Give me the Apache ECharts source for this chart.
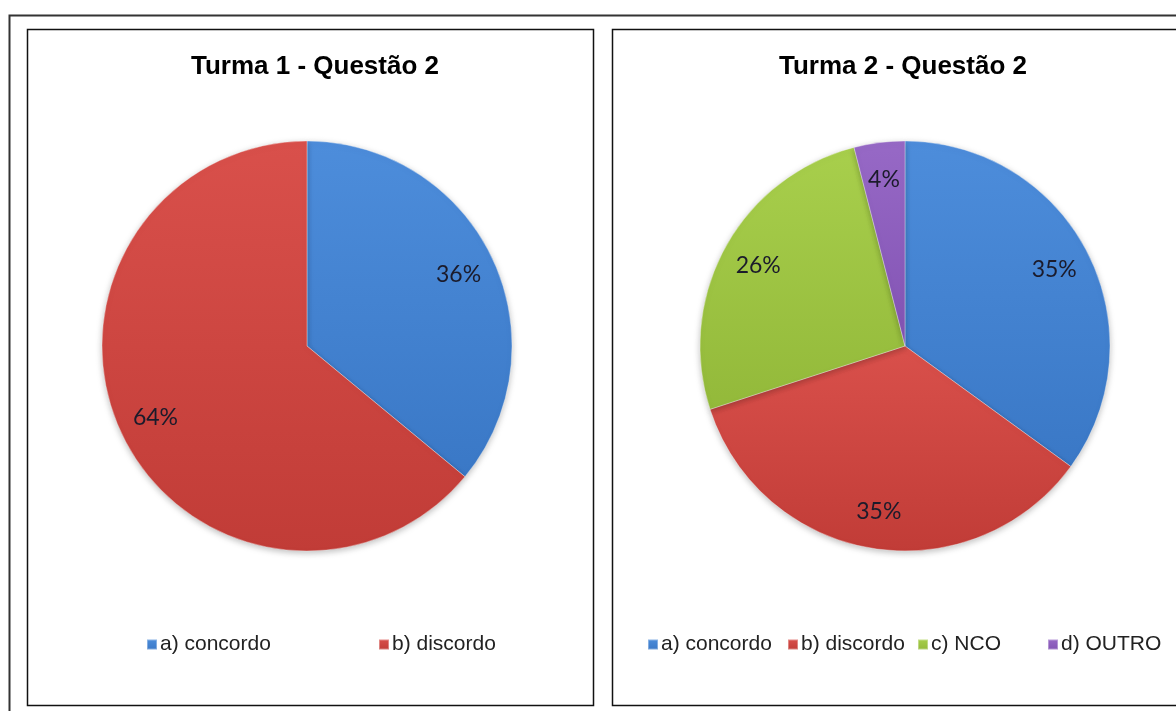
<!DOCTYPE html>
<html>
<head>
<meta charset="utf-8">
<script src="https://cdn.jsdelivr.net/npm/echarts@6.0.0/dist/echarts.min.js"></script>
<style>
  html, body { margin: 0; padding: 0; background: #fff; }
  #main { width: 1176px; height: 711px; }
</style>
</head>
<body>
<div id="main"></div>
<script>
// dados
var titulo1 = 'Turma 1 - Questão 2';
var titulo2 = 'Turma 2 - Questão 2';
var categorias1 = ['a) concordo', 'b) discordo'];
var valores1 = [36, 64];
var categorias2 = ['a) concordo', 'b) discordo', 'c) NCO', 'd) OUTRO'];
var valores2 = [35, 35, 26, 4];

// posição x de cada item da legenda (o Excel distribui em colunas fixas)
var legendaX1 = [141, 373];
var legendaX2 = [642, 782, 912, 1042];

// cores tipo Office 2007
var cores = {
  'a) concordo': ['#4d8ddb', '#3a78c6'],
  'b) discordo': ['#d9504b', '#c13c37'],
  'c) NCO': ['#a8cf4c', '#93b93a'],
  'd) OUTRO': ['#9769c6', '#8253b3']
};

function grad(nome) {
  var c = cores[nome];
  return new echarts.graphic.LinearGradient(0, 0, 0, 1, [
    { offset: 0, color: c[0] },
    { offset: 1, color: c[1] }
  ]);
}

function montaDados(cats, vals) {
  return cats.map(function (n, i) {
    return { name: n, value: vals[i], itemStyle: { color: grad(n) } };
  });
}

// série só para os rótulos (transparente), posiciona o texto mais perto da borda
function rotulos(cats, vals, centro) {
  return {
    type: 'pie',
    silent: true,
    center: centro,
    radius: [124, 205],
    startAngle: 90,
    clockwise: true,
    data: cats.map(function (n, i) {
      return { name: n, value: vals[i], itemStyle: { color: 'rgba(0,0,0,0)' } };
    }),
    label: {
      show: true,
      position: 'inside',
      formatter: '{d}%',
      color: '#1b1b2b',
      fontFamily: 'Lato',
      fontSize: 23
    },
    labelLine: { show: false },
    emphasis: { disabled: true },
    z: 5
  };
}

function pizza(cats, vals, centro) {
  return {
    type: 'pie',
    center: centro,
    radius: [0, 205],
    startAngle: 90,
    clockwise: true,
    data: montaDados(cats, vals),
    label: { show: false },
    labelLine: { show: false },
    itemStyle: {
      borderColor: 'rgba(255,255,255,0.35)',
      borderWidth: 1,
      shadowBlur: 6,
      shadowOffsetY: 2,
      shadowColor: 'rgba(0,0,0,0.25)'
    },
    emphasis: { scale: false }
  };
}

function legendas(cats, xs) {
  return cats.map(function (n, i) {
    return {
      orient: 'horizontal',
      left: xs[i],
      top: 629,
      itemWidth: 10,
      itemHeight: 10,
      itemGap: 0,
      icon: 'rect',
      data: [n],
      textStyle: { fontFamily: 'Liberation Sans', fontSize: 21, color: '#222', padding: [0, 0, 0, -2] }
    };
  });
}

var chart = echarts.init(document.getElementById('main'));

chart.setOption({
  backgroundColor: '#fff',
  animation: false,
  graphic: [
    { type: 'rect', shape: { x: 9.5, y: 15.5, width: 1180, height: 710 },
      style: { fill: 'none', stroke: '#333', lineWidth: 2 } },
    { type: 'rect', shape: { x: 27.5, y: 29.5, width: 566, height: 676 },
      style: { fill: '#fff', stroke: '#111', lineWidth: 1.5 } },
    { type: 'rect', shape: { x: 612.5, y: 29.5, width: 580, height: 676 },
      style: { fill: '#fff', stroke: '#111', lineWidth: 1.5 } }
  ],
  title: [
    { text: titulo1, left: 310, top: 49, textAlign: 'center',
      textStyle: { fontFamily: 'Liberation Sans', fontWeight: 'bold', fontSize: 26, color: '#000' } },
    { text: titulo2, left: 898, top: 49, textAlign: 'center',
      textStyle: { fontFamily: 'Liberation Sans', fontWeight: 'bold', fontSize: 26, color: '#000' } }
  ],
  legend: legendas(categorias1, legendaX1).concat(legendas(categorias2, legendaX2)),
  series: [
    pizza(categorias1, valores1, [307, 346]),
    rotulos(categorias1, valores1, [307, 346]),
    pizza(categorias2, valores2, [905, 346]),
    rotulos(categorias2, valores2, [905, 346])
  ]
});
</script>
</body>
</html>
